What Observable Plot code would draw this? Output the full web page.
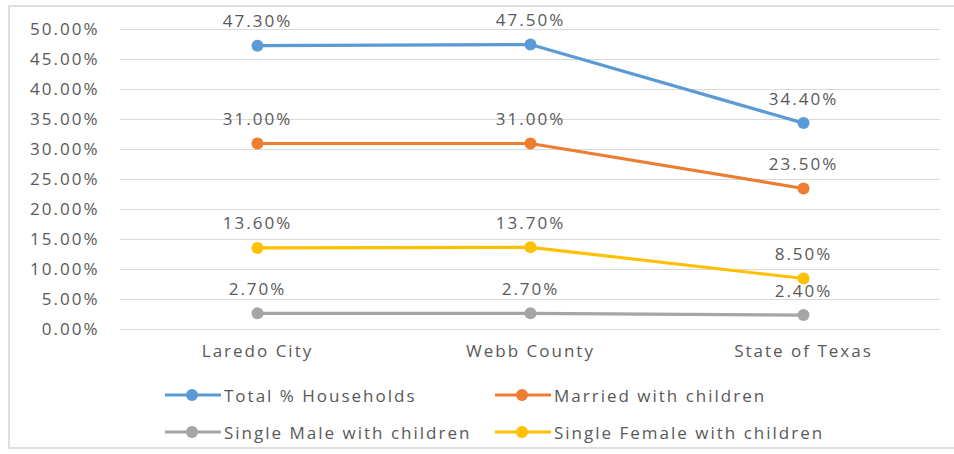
<!DOCTYPE html>
<html>
<head>
<meta charset="utf-8">
<script src="https://cdn.jsdelivr.net/npm/d3@7"></script>
<script src="https://cdn.jsdelivr.net/npm/@observablehq/plot@0.6"></script>
<style>
  html, body { margin: 0; padding: 0; background: #fff; overflow: hidden; }
  body { width: 954px; height: 454px; position: relative; font-family: "Open Sans", sans-serif; }
  #frame { position: absolute; left: 8px; top: 5px; width: 1000px; height: 444px;
           border: 2px solid #dedede; border-right: none; box-sizing: border-box; }
  #chart { position: absolute; left: 0; top: 0; }
  #chart svg text { letter-spacing: 2px; }
  #legend { position: absolute; left: 0; top: 375px; width: 954px; height: 79px; }
  .item { position: absolute; display: flex; align-items: center; height: 20px;
          font-size: 17px; letter-spacing: 2px; color: #595959; }
  .item svg { margin-right: 3px; }
</style>
</head>
<body>
<div id="frame"></div>
<div id="chart"></div>
<div id="legend"></div>
<script>
const categories = ["Laredo City", "Webb County", "State of Texas"];
const seriesNames = ["Total % Households", "Married with children", "Single Male with children", "Single Female with children"];
const totalHouseholds = [47.3, 47.5, 34.4];
const marriedWithChildren = [31.0, 31.0, 23.5];
const singleMaleWithChildren = [2.7, 2.7, 2.4];
const singleFemaleWithChildren = [13.6, 13.7, 8.5];
const yTicks = [0, 5, 10, 15, 20, 25, 30, 35, 40, 45, 50];
const colors = ["#5b9bd5", "#ed7d31", "#a5a5a5", "#ffc000"];

const seriesValues = [totalHouseholds, marriedWithChildren, singleMaleWithChildren, singleFemaleWithChildren];
const data = [];
seriesNames.forEach((s, i) => categories.forEach((c, j) => data.push({series: s, category: c, value: seriesValues[i][j]})));

const fmt = d => d.toFixed(2) + "%";

const chart = Plot.plot({
  width: 954,
  height: 375,
  marginLeft: 120,
  marginRight: 14,
  marginTop: 29,
  marginBottom: 46,
  style: {fontFamily: "Open Sans", fontSize: "17px", color: "#595959", background: "transparent"},
  x: {type: "point", domain: categories, padding: 0.5, label: null},
  y: {domain: [0, 50], label: null},
  color: {domain: seriesNames, range: colors},
  marks: [
    Plot.gridY(yTicks, {stroke: "#d9d9d9", strokeOpacity: 1, strokeWidth: 1.2}),
    Plot.axisY(yTicks, {tickSize: 0, tickPadding: 21, tickFormat: fmt, label: null, fill: "#595959", fontSize: 17}),
    Plot.axisX({tickSize: 0, tickPadding: 15, label: null, fill: "#595959", fontSize: 17}),
    Plot.line(data, {x: "category", y: "value", z: "series", stroke: "series", strokeWidth: 3.2}),
    Plot.dot(data, {x: "category", y: "value", fill: "series", r: 6, stroke: null}),
    Plot.text(data, {x: "category", y: "value", text: d => fmt(d.value), dy: -24, fill: "#595959", fontSize: 17})
  ]
});
document.getElementById("chart").appendChild(chart);

// legend (HTML)
const legend = document.getElementById("legend");
const positions = [[165, 10], [495, 10], [165, 47], [495, 47]];
seriesNames.forEach((s, i) => {
  const item = document.createElement("div");
  item.className = "item";
  item.style.left = positions[i][0] + "px";
  item.style.top = positions[i][1] + "px";
  const color = colors[i];
  item.innerHTML = `<svg width="56" height="14"><line x1="0" y1="7" x2="56" y2="7" stroke="${color}" stroke-width="3.2"/><circle cx="27" cy="7" r="6" fill="${color}"/></svg><span>${s}</span>`;
  legend.appendChild(item);
});
</script>
</body>
</html>
